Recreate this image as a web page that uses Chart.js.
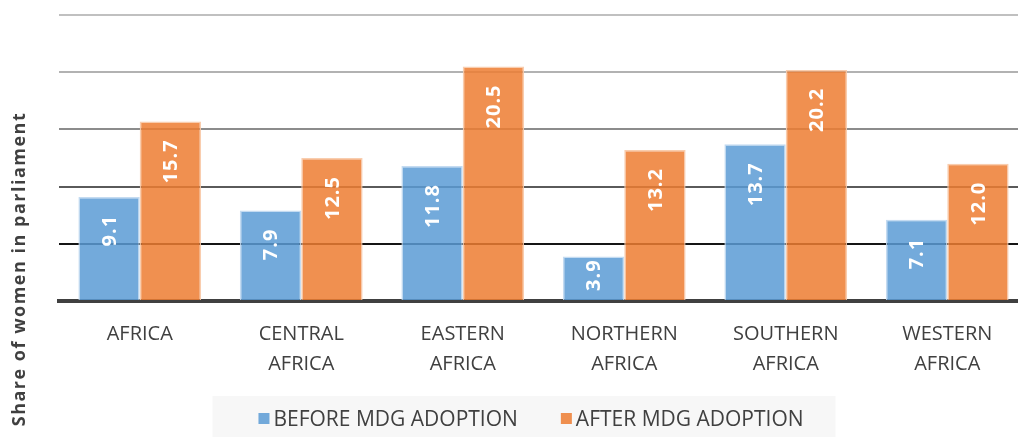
<!DOCTYPE html>
<html>
<head>
<meta charset="utf-8">
<script src="https://cdn.jsdelivr.net/npm/chart.js@4.4.1/dist/chart.umd.min.js"></script>
<style>
  html, body { margin: 0; padding: 0; background: #fff; overflow: hidden; }
  #wrap { width: 1028px; height: 437px; }
</style>
</head>
<body>
<div id="wrap"><canvas id="chart"></canvas></div>
<script>
var categories = ['AFRICA', ['CENTRAL', 'AFRICA'], ['EASTERN', 'AFRICA'], ['NORTHERN', 'AFRICA'], ['SOUTHERN', 'AFRICA'], ['WESTERN', 'AFRICA']];
var beforeMdg = [9.1, 7.9, 11.8, 3.9, 13.7, 7.1];
var afterMdg = [15.7, 12.5, 20.5, 13.2, 20.2, 12.0];
var seriesNames = ['BEFORE MDG ADOPTION', 'AFTER MDG ADOPTION'];
var yTitle = 'Share of women in parliament';

var textColor = '#404040';
var fontFamily = "'Open Sans', 'Noto Sans', sans-serif";

// grid colour gets darker toward the baseline
function gridColor(ctx) {
    var v = ctx.tick ? ctx.tick.value : 0;
    if (v === 0) return 'rgba(0,0,0,0)';
    if (v >= 25) return '#c0c0c0';
    if (v >= 20) return '#b2b2b2';
    if (v >= 15) return '#8c8c8c';
    if (v >= 10) return '#5a5a5a';
    return '#151515';
}

// white rotated value labels near the top of each bar
var barLabels = {
    id: 'barLabels',
    afterDatasetsDraw: function(chart) {
        var ctx = chart.ctx;
        ctx.save();
        ctx.fillStyle = '#ffffff';
        ctx.font = 'bold 20px ' + fontFamily;
        ctx.letterSpacing = '1px';
        ctx.textAlign = 'right';
        ctx.textBaseline = 'middle';
        chart.data.datasets.forEach(function(ds, i) {
            var meta = chart.getDatasetMeta(i);
            meta.data.forEach(function(bar, j) {
                var txt = ds.data[j].toFixed(1);
                var len = ctx.measureText(txt).width;
                var end = bar.y + 18;
                if (end + len > bar.base - 3) end = bar.y + 3;
                ctx.save();
                ctx.translate(bar.x + 1, end);
                ctx.rotate(-Math.PI / 2);
                ctx.fillText(txt, 0, 0);
                ctx.restore();
            });
        });
        ctx.restore();
    }
};

// y title and legend drawn by hand to match the placement
var extras = {
    id: 'extras',
    afterDraw: function(chart) {
        var ctx = chart.ctx;
        ctx.save();
        ctx.fillStyle = textColor;
        ctx.font = 'bold 18px ' + fontFamily;
        ctx.letterSpacing = '1.5px';
        ctx.textAlign = 'center';
        ctx.textBaseline = 'middle';
        ctx.translate(20, 269);
        ctx.rotate(-Math.PI / 2);
        ctx.fillText(yTitle, 0, 0);
        ctx.restore();

        ctx.save();
        ctx.font = '21px ' + fontFamily;
        ctx.letterSpacing = '0px';
        ctx.textBaseline = 'middle';
        var box = 11, gap = 4, itemGap = 43;
        var items = chart.data.datasets.map(function(ds) {
            return { text: ds.label, color: ds.backgroundColor, w: ctx.measureText(ds.label).width };
        });
        var total = 0;
        items.forEach(function(it, i) { total += box + gap + it.w + (i ? itemGap : 0); });
        var x = 531 - total / 2;
        var cy = 419;
        ctx.fillStyle = '#f7f7f7';
        ctx.fillRect(x - 46, 396, total + 78, 41);
        items.forEach(function(it) {
            ctx.fillStyle = it.color;
            ctx.fillRect(x, cy - 6, box, box);
            ctx.fillStyle = textColor;
            ctx.textAlign = 'left';
            ctx.fillText(it.text, x + box + gap, cy + 1);
            x += box + gap + it.w + itemGap;
        });
        ctx.restore();
    }
};

new Chart(document.getElementById('chart'), {
    type: 'bar',
    data: {
        labels: categories,
        datasets: [
            {
                label: seriesNames[0],
                data: beforeMdg,
                backgroundColor: 'rgba(91,155,213,0.85)',
                borderColor: 'rgba(190,215,240,0.9)',
                borderWidth: 1.5
            },
            {
                label: seriesNames[1],
                data: afterMdg,
                backgroundColor: 'rgba(237,125,49,0.85)',
                borderColor: 'rgba(248,200,165,0.9)',
                borderWidth: 1.5
            }
        ]
    },
    options: {
        responsive: true,
        maintainAspectRatio: false,
        animation: false,
        layout: { padding: { top: 15, bottom: 48, left: 0, right: 0 } },
        datasets: { bar: { categoryPercentage: 0.76, barPercentage: 1 } },
        plugins: {
            legend: { display: false },
            tooltip: { enabled: false }
        },
        scales: {
            y: {
                min: 0,
                max: 25,
                ticks: { display: false, stepSize: 5 },
                border: { display: false },
                grid: { color: gridColor, lineWidth: 2, drawTicks: false },
                afterFit: function(s) { s.width = 59; }
            },
            x: {
                z: 1,
                grid: { display: false },
                border: { color: '#404040', width: 4 },
                ticks: {
                    color: textColor,
                    padding: 10,
                    maxRotation: 0,
                    autoSkip: false,
                    font: { family: fontFamily, size: 20, lineHeight: 1.5 }
                }
            }
        }
    },
    plugins: [barLabels, extras]
});
</script>
</body>
</html>
